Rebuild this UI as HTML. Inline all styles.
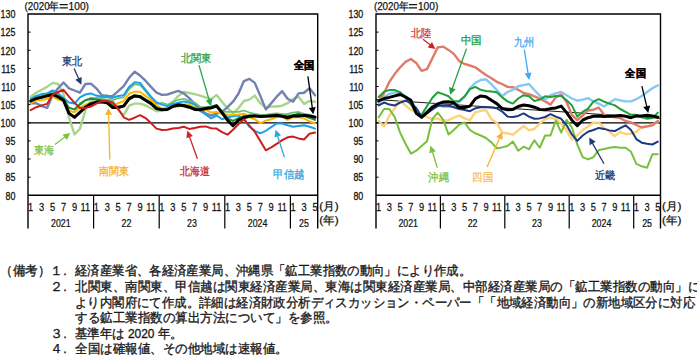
<!DOCTYPE html>
<html><head><meta charset="utf-8"><style>
html,body{margin:0;padding:0;background:#fff;width:697px;height:356px;overflow:hidden}
svg{display:block}
text{font-family:"Liberation Sans",sans-serif}
.ax{font-size:11.7px;fill:#111;stroke:#111;stroke-width:0.3px}
.mx{font-size:11.6px;fill:#111;stroke:#111;stroke-width:0.25px}
.yx{font-size:11.2px;fill:#111;stroke:#111;stroke-width:0.25px}
.hd{font-size:11.7px;fill:#111;stroke:#111;stroke-width:0.25px}
.hd2{font-size:10.8px;fill:#111;stroke:#111;stroke-width:0.25px}
.jl{font-size:11.2px;fill:#111;stroke:#111;stroke-width:0.25px}
.lb{font-size:10.5px;stroke-width:0.3px}
.bd{font-weight:bold}
.nt{font-size:12.5px;fill:#1a1a1a;stroke:#1a1a1a;stroke-width:0.35px}
</style></head><body>
<svg width="697" height="356" viewBox="0 0 697 356">
<text transform="translate(15.4,199.5) scale(0.76,1)" text-anchor="end" class="ax">80</text>
<line x1="28.0" y1="177.2" x2="30.6" y2="177.2" stroke="#000" stroke-width="1"/>
<text transform="translate(15.4,181.4) scale(0.76,1)" text-anchor="end" class="ax">85</text>
<line x1="28.0" y1="159.0" x2="30.6" y2="159.0" stroke="#000" stroke-width="1"/>
<text transform="translate(15.4,163.2) scale(0.76,1)" text-anchor="end" class="ax">90</text>
<line x1="28.0" y1="140.9" x2="30.6" y2="140.9" stroke="#000" stroke-width="1"/>
<text transform="translate(15.4,145.1) scale(0.76,1)" text-anchor="end" class="ax">95</text>
<line x1="28.0" y1="122.8" x2="30.6" y2="122.8" stroke="#000" stroke-width="1"/>
<text transform="translate(15.4,127.0) scale(0.76,1)" text-anchor="end" class="ax">100</text>
<line x1="28.0" y1="104.6" x2="30.6" y2="104.6" stroke="#000" stroke-width="1"/>
<text transform="translate(15.4,108.8) scale(0.76,1)" text-anchor="end" class="ax">105</text>
<line x1="28.0" y1="86.5" x2="30.6" y2="86.5" stroke="#000" stroke-width="1"/>
<text transform="translate(15.4,90.7) scale(0.76,1)" text-anchor="end" class="ax">110</text>
<line x1="28.0" y1="68.4" x2="30.6" y2="68.4" stroke="#000" stroke-width="1"/>
<text transform="translate(15.4,72.6) scale(0.76,1)" text-anchor="end" class="ax">115</text>
<line x1="28.0" y1="50.3" x2="30.6" y2="50.3" stroke="#000" stroke-width="1"/>
<text transform="translate(15.4,54.5) scale(0.76,1)" text-anchor="end" class="ax">120</text>
<line x1="28.0" y1="32.1" x2="30.6" y2="32.1" stroke="#000" stroke-width="1"/>
<text transform="translate(15.4,36.3) scale(0.76,1)" text-anchor="end" class="ax">125</text>
<text transform="translate(15.4,18.2) scale(0.76,1)" text-anchor="end" class="ax">130</text>
<line x1="28.0" y1="122.8" x2="317.7" y2="122.8" stroke="#000" stroke-width="1.2"/>
<path d="M28.0,228.5 V14.0 H317.7 V228.5" fill="none" stroke="#000" stroke-width="1.4"/>
<line x1="28.0" y1="195.3" x2="317.7" y2="195.3" stroke="#000" stroke-width="1.4"/>
<line x1="93.6" y1="195.3" x2="93.6" y2="228.5" stroke="#000" stroke-width="1.2"/>
<line x1="159.2" y1="195.3" x2="159.2" y2="228.5" stroke="#000" stroke-width="1.2"/>
<line x1="224.8" y1="195.3" x2="224.8" y2="228.5" stroke="#000" stroke-width="1.2"/>
<line x1="290.4" y1="195.3" x2="290.4" y2="228.5" stroke="#000" stroke-width="1.2"/>
<text transform="translate(30.7,211) scale(0.8,1)" text-anchor="middle" class="mx">1</text>
<text transform="translate(41.7,211) scale(0.8,1)" text-anchor="middle" class="mx">3</text>
<text transform="translate(52.6,211) scale(0.8,1)" text-anchor="middle" class="mx">5</text>
<text transform="translate(63.5,211) scale(0.8,1)" text-anchor="middle" class="mx">7</text>
<text transform="translate(74.5,211) scale(0.8,1)" text-anchor="middle" class="mx">9</text>
<text transform="translate(85.4,211) scale(0.8,1)" text-anchor="middle" class="mx">11</text>
<text transform="translate(96.3,211) scale(0.8,1)" text-anchor="middle" class="mx">1</text>
<text transform="translate(107.3,211) scale(0.8,1)" text-anchor="middle" class="mx">3</text>
<text transform="translate(118.2,211) scale(0.8,1)" text-anchor="middle" class="mx">5</text>
<text transform="translate(129.1,211) scale(0.8,1)" text-anchor="middle" class="mx">7</text>
<text transform="translate(140.1,211) scale(0.8,1)" text-anchor="middle" class="mx">9</text>
<text transform="translate(151.0,211) scale(0.8,1)" text-anchor="middle" class="mx">11</text>
<text transform="translate(161.9,211) scale(0.8,1)" text-anchor="middle" class="mx">1</text>
<text transform="translate(172.8,211) scale(0.8,1)" text-anchor="middle" class="mx">3</text>
<text transform="translate(183.8,211) scale(0.8,1)" text-anchor="middle" class="mx">5</text>
<text transform="translate(194.7,211) scale(0.8,1)" text-anchor="middle" class="mx">7</text>
<text transform="translate(205.6,211) scale(0.8,1)" text-anchor="middle" class="mx">9</text>
<text transform="translate(216.6,211) scale(0.8,1)" text-anchor="middle" class="mx">11</text>
<text transform="translate(227.5,211) scale(0.8,1)" text-anchor="middle" class="mx">1</text>
<text transform="translate(238.4,211) scale(0.8,1)" text-anchor="middle" class="mx">3</text>
<text transform="translate(249.4,211) scale(0.8,1)" text-anchor="middle" class="mx">5</text>
<text transform="translate(260.3,211) scale(0.8,1)" text-anchor="middle" class="mx">7</text>
<text transform="translate(271.2,211) scale(0.8,1)" text-anchor="middle" class="mx">9</text>
<text transform="translate(282.2,211) scale(0.8,1)" text-anchor="middle" class="mx">11</text>
<text transform="translate(293.1,211) scale(0.8,1)" text-anchor="middle" class="mx">1</text>
<text transform="translate(304.0,211) scale(0.8,1)" text-anchor="middle" class="mx">3</text>
<text transform="translate(315.0,211) scale(0.8,1)" text-anchor="middle" class="mx">5</text>
<text transform="translate(60.8,227.2) scale(0.79,1)" text-anchor="middle" class="yx">2021</text>
<text transform="translate(126.4,227.2) scale(0.79,1)" text-anchor="middle" class="yx">22</text>
<text transform="translate(192.0,227.2) scale(0.79,1)" text-anchor="middle" class="yx">23</text>
<text transform="translate(257.6,227.2) scale(0.79,1)" text-anchor="middle" class="yx">2024</text>
<text transform="translate(304.0,227.2) scale(0.79,1)" text-anchor="middle" class="yx">25</text>
<text x="319.3" y="209.6" class="jl" textLength="19.4" lengthAdjust="spacingAndGlyphs">(月)</text>
<text x="319.3" y="224.2" class="jl" textLength="19.4" lengthAdjust="spacingAndGlyphs">(年)</text>
<text transform="translate(363.3,199.5) scale(0.76,1)" text-anchor="end" class="ax">80</text>
<line x1="376.0" y1="177.2" x2="378.6" y2="177.2" stroke="#000" stroke-width="1"/>
<text transform="translate(363.3,181.4) scale(0.76,1)" text-anchor="end" class="ax">85</text>
<line x1="376.0" y1="159.0" x2="378.6" y2="159.0" stroke="#000" stroke-width="1"/>
<text transform="translate(363.3,163.2) scale(0.76,1)" text-anchor="end" class="ax">90</text>
<line x1="376.0" y1="140.9" x2="378.6" y2="140.9" stroke="#000" stroke-width="1"/>
<text transform="translate(363.3,145.1) scale(0.76,1)" text-anchor="end" class="ax">95</text>
<line x1="376.0" y1="122.8" x2="378.6" y2="122.8" stroke="#000" stroke-width="1"/>
<text transform="translate(363.3,127.0) scale(0.76,1)" text-anchor="end" class="ax">100</text>
<line x1="376.0" y1="104.6" x2="378.6" y2="104.6" stroke="#000" stroke-width="1"/>
<text transform="translate(363.3,108.8) scale(0.76,1)" text-anchor="end" class="ax">105</text>
<line x1="376.0" y1="86.5" x2="378.6" y2="86.5" stroke="#000" stroke-width="1"/>
<text transform="translate(363.3,90.7) scale(0.76,1)" text-anchor="end" class="ax">110</text>
<line x1="376.0" y1="68.4" x2="378.6" y2="68.4" stroke="#000" stroke-width="1"/>
<text transform="translate(363.3,72.6) scale(0.76,1)" text-anchor="end" class="ax">115</text>
<line x1="376.0" y1="50.3" x2="378.6" y2="50.3" stroke="#000" stroke-width="1"/>
<text transform="translate(363.3,54.5) scale(0.76,1)" text-anchor="end" class="ax">120</text>
<line x1="376.0" y1="32.1" x2="378.6" y2="32.1" stroke="#000" stroke-width="1"/>
<text transform="translate(363.3,36.3) scale(0.76,1)" text-anchor="end" class="ax">125</text>
<text transform="translate(363.3,18.2) scale(0.76,1)" text-anchor="end" class="ax">130</text>
<line x1="376.0" y1="122.8" x2="660.5" y2="122.8" stroke="#000" stroke-width="1.2"/>
<path d="M376.0,228.5 V14.0 H660.5 V228.5" fill="none" stroke="#000" stroke-width="1.4"/>
<line x1="376.0" y1="195.3" x2="660.5" y2="195.3" stroke="#000" stroke-width="1.4"/>
<line x1="440.4" y1="195.3" x2="440.4" y2="228.5" stroke="#000" stroke-width="1.2"/>
<line x1="504.8" y1="195.3" x2="504.8" y2="228.5" stroke="#000" stroke-width="1.2"/>
<line x1="569.2" y1="195.3" x2="569.2" y2="228.5" stroke="#000" stroke-width="1.2"/>
<line x1="633.7" y1="195.3" x2="633.7" y2="228.5" stroke="#000" stroke-width="1.2"/>
<text transform="translate(378.7,211) scale(0.8,1)" text-anchor="middle" class="mx">1</text>
<text transform="translate(389.4,211) scale(0.8,1)" text-anchor="middle" class="mx">3</text>
<text transform="translate(400.2,211) scale(0.8,1)" text-anchor="middle" class="mx">5</text>
<text transform="translate(410.9,211) scale(0.8,1)" text-anchor="middle" class="mx">7</text>
<text transform="translate(421.6,211) scale(0.8,1)" text-anchor="middle" class="mx">9</text>
<text transform="translate(432.4,211) scale(0.8,1)" text-anchor="middle" class="mx">11</text>
<text transform="translate(443.1,211) scale(0.8,1)" text-anchor="middle" class="mx">1</text>
<text transform="translate(453.8,211) scale(0.8,1)" text-anchor="middle" class="mx">3</text>
<text transform="translate(464.6,211) scale(0.8,1)" text-anchor="middle" class="mx">5</text>
<text transform="translate(475.3,211) scale(0.8,1)" text-anchor="middle" class="mx">7</text>
<text transform="translate(486.0,211) scale(0.8,1)" text-anchor="middle" class="mx">9</text>
<text transform="translate(496.8,211) scale(0.8,1)" text-anchor="middle" class="mx">11</text>
<text transform="translate(507.5,211) scale(0.8,1)" text-anchor="middle" class="mx">1</text>
<text transform="translate(518.2,211) scale(0.8,1)" text-anchor="middle" class="mx">3</text>
<text transform="translate(529.0,211) scale(0.8,1)" text-anchor="middle" class="mx">5</text>
<text transform="translate(539.7,211) scale(0.8,1)" text-anchor="middle" class="mx">7</text>
<text transform="translate(550.5,211) scale(0.8,1)" text-anchor="middle" class="mx">9</text>
<text transform="translate(561.2,211) scale(0.8,1)" text-anchor="middle" class="mx">11</text>
<text transform="translate(571.9,211) scale(0.8,1)" text-anchor="middle" class="mx">1</text>
<text transform="translate(582.7,211) scale(0.8,1)" text-anchor="middle" class="mx">3</text>
<text transform="translate(593.4,211) scale(0.8,1)" text-anchor="middle" class="mx">5</text>
<text transform="translate(604.1,211) scale(0.8,1)" text-anchor="middle" class="mx">7</text>
<text transform="translate(614.9,211) scale(0.8,1)" text-anchor="middle" class="mx">9</text>
<text transform="translate(625.6,211) scale(0.8,1)" text-anchor="middle" class="mx">11</text>
<text transform="translate(636.3,211) scale(0.8,1)" text-anchor="middle" class="mx">1</text>
<text transform="translate(647.1,211) scale(0.8,1)" text-anchor="middle" class="mx">3</text>
<text transform="translate(657.8,211) scale(0.8,1)" text-anchor="middle" class="mx">5</text>
<text transform="translate(408.2,227.2) scale(0.79,1)" text-anchor="middle" class="yx">2021</text>
<text transform="translate(472.6,227.2) scale(0.79,1)" text-anchor="middle" class="yx">22</text>
<text transform="translate(537.0,227.2) scale(0.79,1)" text-anchor="middle" class="yx">23</text>
<text transform="translate(601.5,227.2) scale(0.79,1)" text-anchor="middle" class="yx">2024</text>
<text transform="translate(647.1,227.2) scale(0.79,1)" text-anchor="middle" class="yx">25</text>
<text x="662.1" y="209.6" class="jl" textLength="19.4" lengthAdjust="spacingAndGlyphs">(月)</text>
<text x="662.1" y="224.2" class="jl" textLength="19.4" lengthAdjust="spacingAndGlyphs">(年)</text>
<text x="24.6" y="9.8" class="hd" textLength="25" lengthAdjust="spacingAndGlyphs">(2020</text><text x="49.4" y="9.8" class="hd2" textLength="9.8" lengthAdjust="spacingAndGlyphs">年</text><path d="M59.6,4.6 H67.8 M59.6,7.9 H67.8" stroke="#111" stroke-width="1.1"/><text x="68.6" y="9.8" class="hd" textLength="20.4" lengthAdjust="spacingAndGlyphs">100)</text>
<text x="373.90000000000003" y="9.8" class="hd" textLength="25" lengthAdjust="spacingAndGlyphs">(2020</text><text x="398.7" y="9.8" class="hd2" textLength="9.8" lengthAdjust="spacingAndGlyphs">年</text><path d="M408.90000000000003,4.6 H417.1 M408.90000000000003,7.9 H417.1" stroke="#111" stroke-width="1.1"/><text x="417.9" y="9.8" class="hd" textLength="20.4" lengthAdjust="spacingAndGlyphs">100)</text>
<clipPath id="cl"><rect x="28.0" y="14.0" width="289.7" height="181.29999999999998"/></clipPath>
<clipPath id="cr"><rect x="376.0" y="14.0" width="284.5" height="181.29999999999998"/></clipPath>
<g clip-path="url(#cl)">
<polyline points="30.7,96.7 36.2,92.7 41.7,89.8 47.1,86.9 52.6,82.9 58.1,84.0 63.5,94.1 69.0,117.3 74.5,134.4 79.9,128.9 85.4,110.1 90.9,100.7 96.3,98.1 101.8,97.4 107.3,95.2 112.7,101.0 118.2,110.1 123.7,115.2 129.1,105.7 134.6,103.6 140.1,103.6 145.5,105.4 151.0,108.3 156.5,111.2 161.9,110.5 167.4,106.8 172.8,102.1 178.3,95.9 183.8,92.0 189.2,93.0 194.7,94.1 200.2,95.6 205.6,97.4 211.1,99.2 216.6,94.9 222.0,101.7 227.5,108.3 233.0,113.0 238.4,108.3 243.9,101.0 249.4,99.6 254.8,95.6 260.3,103.2 265.8,107.9 271.2,106.5 276.7,106.5 282.2,105.7 287.6,103.2 293.1,98.8 298.6,96.7 304.0,103.9 309.5,101.0 315.0,101.7" fill="none" stroke="#a9d58a" stroke-width="2.4" stroke-linejoin="round" stroke-linecap="round"/>
<polyline points="30.7,103.2 36.2,103.2 41.7,106.1 47.1,107.9 52.6,95.2 58.1,88.3 63.5,82.5 69.0,88.3 74.5,90.5 79.9,92.7 85.4,84.0 90.9,83.6 96.3,88.3 101.8,95.2 107.3,96.3 112.7,95.9 118.2,91.2 123.7,86.2 129.1,77.8 134.6,71.7 140.1,75.6 145.5,80.7 151.0,86.9 156.5,92.7 161.9,94.9 167.4,94.5 172.8,92.7 178.3,90.9 183.8,93.4 189.2,98.1 194.7,103.9 200.2,108.6 205.6,113.4 211.1,115.5 216.6,113.7 222.0,111.9 227.5,107.2 233.0,101.7 238.4,93.8 243.9,81.1 249.4,78.9 254.8,82.9 260.3,95.9 265.8,109.4 271.2,103.2 276.7,96.7 282.2,91.2 287.6,98.8 293.1,101.7 298.6,93.4 304.0,92.7 309.5,88.3 315.0,95.2" fill="none" stroke="#7282b0" stroke-width="2.4" stroke-linejoin="round" stroke-linecap="round"/>
<polyline points="30.7,99.9 36.2,97.4 41.7,95.6 47.1,94.5 52.6,92.3 58.1,94.9 63.5,99.2 69.0,107.6 74.5,109.4 79.9,103.2 85.4,99.9 90.9,97.8 96.3,98.1 101.8,98.8 107.3,99.6 112.7,100.3 118.2,98.1 123.7,97.4 129.1,89.1 134.6,84.3 140.1,85.1 145.5,91.6 151.0,98.1 156.5,103.9 161.9,102.8 167.4,104.6 172.8,101.7 178.3,99.9 183.8,98.8 189.2,100.7 194.7,102.5 200.2,106.8 205.6,107.6 211.1,107.9 216.6,106.5 222.0,111.5 227.5,111.9 233.0,111.9 238.4,111.9 243.9,110.5 249.4,112.6 254.8,113.7 260.3,114.8 265.8,114.8 271.2,113.7 276.7,113.4 282.2,114.1 287.6,113.7 293.1,112.6 298.6,111.9 304.0,113.7 309.5,114.8 315.0,116.3" fill="none" stroke="#6cc070" stroke-width="1.6" stroke-linejoin="round" stroke-linecap="round"/>
<polyline points="30.7,98.8 36.2,95.9 41.7,94.1 47.1,93.4 52.6,90.5 58.1,93.4 63.5,98.1 69.0,102.5 74.5,103.6 79.9,97.4 85.4,94.5 90.9,93.4 96.3,95.6 101.8,96.7 107.3,97.0 112.7,97.8 118.2,95.9 123.7,95.2 129.1,86.9 134.6,82.2 140.1,82.9 145.5,89.8 151.0,96.7 156.5,102.5 161.9,104.6 167.4,106.1 172.8,103.9 178.3,102.8 183.8,101.4 189.2,102.5 194.7,104.6 200.2,110.8 205.6,114.4 211.1,118.4 216.6,115.5 222.0,119.2 227.5,117.3 233.0,116.3 238.4,115.5 243.9,119.2 249.4,126.8 254.8,130.8 260.3,133.3 265.8,130.8 271.2,127.1 276.7,123.5 282.2,123.5 287.6,125.3 293.1,126.8 298.6,126.0 304.0,125.3 309.5,126.8 315.0,128.6" fill="none" stroke="#1aa0e8" stroke-width="2.0" stroke-linejoin="round" stroke-linecap="round"/>
<polyline points="30.7,103.2 36.2,100.3 41.7,100.3 47.1,98.8 52.6,96.7 58.1,99.6 63.5,101.0 69.0,110.8 74.5,112.3 79.9,107.9 85.4,104.6 90.9,102.5 96.3,102.5 101.8,102.8 107.3,103.6 112.7,105.7 118.2,103.2 123.7,101.0 129.1,93.8 134.6,91.6 140.1,92.0 145.5,95.9 151.0,100.3 156.5,105.4 161.9,108.3 167.4,108.6 172.8,106.1 178.3,106.8 183.8,104.3 189.2,104.6 194.7,107.6 200.2,108.6 205.6,109.7 211.1,112.6 216.6,111.9 222.0,114.1 227.5,114.8 233.0,114.8 238.4,114.4 243.9,113.7 249.4,117.3 254.8,119.2 260.3,123.1 265.8,120.6 271.2,119.2 276.7,117.0 282.2,116.6 287.6,119.9 293.1,117.3 298.6,117.0 304.0,118.4 309.5,121.3 315.0,123.5" fill="none" stroke="#ffb400" stroke-width="2.0" stroke-linejoin="round" stroke-linecap="round"/>
<polyline points="30.7,101.0 36.2,98.1 41.7,96.7 47.1,95.2 52.6,93.8 58.1,95.9 63.5,98.8 69.0,107.9 74.5,109.4 79.9,104.6 85.4,100.3 90.9,98.8 96.3,99.6 101.8,100.3 107.3,101.0 112.7,105.4 118.2,106.5 123.7,105.4 129.1,97.8 134.6,95.2 140.1,95.9 145.5,99.6 151.0,103.2 156.5,107.6 161.9,109.4 167.4,109.0 172.8,106.1 178.3,103.9 183.8,105.0 189.2,106.5 194.7,108.3 200.2,108.6 205.6,107.6 211.1,106.8 216.6,105.0 222.0,111.2 227.5,118.4 233.0,121.0 238.4,118.1 243.9,115.9 249.4,115.5 254.8,115.5 260.3,116.3 265.8,115.9 271.2,115.2 276.7,114.4 282.2,115.9 287.6,115.5 293.1,115.2 298.6,113.7 304.0,115.9 309.5,117.7 315.0,119.9" fill="none" stroke="#1f8f3a" stroke-width="2.0" stroke-linejoin="round" stroke-linecap="round"/>
<polyline points="30.7,101.0 36.2,98.5 41.7,97.4 47.1,95.9 52.6,94.5 58.1,97.0 63.5,100.3 69.0,113.4 74.5,117.3 79.9,112.3 85.4,107.2 90.9,103.9 96.3,102.1 101.8,101.7 107.3,102.8 112.7,107.6 118.2,107.6 123.7,106.1 129.1,98.8 134.6,95.9 140.1,96.7 145.5,100.3 151.0,103.6 156.5,108.6 161.9,109.7 167.4,109.4 172.8,106.5 178.3,105.0 183.8,105.7 189.2,107.2 194.7,109.4 200.2,109.7 205.6,108.6 211.1,107.9 216.6,106.1 222.0,112.6 227.5,120.2 233.0,125.7 238.4,120.2 243.9,117.7 249.4,116.3 254.8,115.9 260.3,116.6 265.8,116.3 271.2,115.9 276.7,115.5 282.2,116.3 287.6,117.7 293.1,115.9 298.6,115.9 304.0,115.2 309.5,115.9 315.0,117.3" fill="none" stroke="#000" stroke-width="3.0" stroke-linejoin="round" stroke-linecap="round"/>
<polyline points="30.7,110.1 36.2,107.2 41.7,105.4 47.1,103.9 52.6,94.5 58.1,92.0 63.5,89.8 69.0,96.7 74.5,102.8 79.9,107.9 85.4,107.9 90.9,106.5 96.3,103.6 101.8,101.0 107.3,101.0 112.7,102.5 118.2,109.0 123.7,117.3 129.1,119.9 134.6,117.7 140.1,115.2 145.5,118.1 151.0,123.1 156.5,128.6 161.9,130.0 167.4,129.7 172.8,128.6 178.3,127.9 183.8,126.8 189.2,128.9 194.7,127.9 200.2,126.8 205.6,126.4 211.1,128.2 216.6,128.6 222.0,132.2 227.5,134.7 233.0,129.7 238.4,124.2 243.9,119.2 249.4,125.7 254.8,131.8 260.3,140.9 265.8,150.3 271.2,147.4 276.7,143.8 282.2,140.2 287.6,137.3 293.1,136.6 298.6,138.4 304.0,139.5 309.5,133.7 315.0,132.6" fill="none" stroke="#d01c1c" stroke-width="2.0" stroke-linejoin="round" stroke-linecap="round"/>
</g><g clip-path="url(#cr)">
<line x1="376.0" y1="99.5" x2="660.5" y2="118.3" stroke="#000" stroke-width="0.9"/>
<polyline points="378.7,121.0 384.1,126.4 389.4,115.5 394.8,108.3 400.2,100.7 405.5,105.4 410.9,110.1 416.3,111.5 421.6,114.8 427.0,117.0 432.4,119.2 437.7,118.4 443.1,121.0 448.5,120.2 453.8,117.7 459.2,115.5 464.6,118.4 469.9,120.2 475.3,112.3 480.7,110.8 486.0,110.1 491.4,119.2 496.8,122.8 502.1,132.6 507.5,133.3 512.9,134.7 518.2,130.4 523.6,126.0 529.0,130.4 534.4,128.9 539.7,123.5 545.1,119.2 550.5,117.7 555.8,119.2 561.2,123.5 566.6,130.4 571.9,139.5 577.3,135.5 582.7,130.0 588.0,126.4 593.4,122.8 598.8,122.4 604.1,128.2 609.5,131.8 614.9,136.2 620.2,131.8 625.6,134.0 631.0,133.7 636.3,131.8 641.7,126.8 647.1,126.4 652.4,124.6 657.8,121.7" fill="none" stroke="#ffd27a" stroke-width="2.4" stroke-linejoin="round" stroke-linecap="round"/>
<polyline points="378.7,117.3 384.1,109.0 389.4,109.0 394.8,117.3 400.2,132.9 405.5,143.8 410.9,153.6 416.3,150.7 421.6,146.0 427.0,141.3 432.4,118.8 437.7,112.6 443.1,119.5 448.5,134.4 453.8,130.0 459.2,124.6 464.6,122.4 469.9,130.0 475.3,133.3 480.7,135.5 486.0,138.0 491.4,142.4 496.8,148.2 502.1,147.4 507.5,146.0 512.9,141.6 518.2,150.7 523.6,146.7 529.0,149.2 534.4,140.2 539.7,147.8 545.1,135.5 550.5,135.5 555.8,120.6 561.2,132.6 566.6,119.9 571.9,127.5 577.3,144.5 582.7,157.2 588.0,159.4 593.4,157.2 598.8,150.0 604.1,148.9 609.5,147.8 614.9,147.1 620.2,147.8 625.6,147.8 631.0,151.8 636.3,163.8 641.7,166.3 647.1,167.7 652.4,154.3 657.8,154.3" fill="none" stroke="#78c03c" stroke-width="2.0" stroke-linejoin="round" stroke-linecap="round"/>
<polyline points="378.7,101.0 384.1,93.0 389.4,81.8 394.8,73.8 400.2,67.3 405.5,61.9 410.9,59.0 416.3,63.0 421.6,70.9 427.0,69.1 432.4,58.2 437.7,47.4 443.1,46.6 448.5,49.9 453.8,53.9 459.2,61.1 464.6,64.0 469.9,65.5 475.3,67.3 480.7,71.3 486.0,74.9 491.4,78.2 496.8,81.8 502.1,84.0 507.5,86.9 512.9,87.2 518.2,89.8 523.6,93.0 529.0,94.1 534.4,96.3 539.7,98.5 545.1,101.4 550.5,104.6 555.8,97.4 561.2,94.5 566.6,102.1 571.9,114.8 577.3,120.2 582.7,115.5 588.0,110.5 593.4,109.7 598.8,107.6 604.1,114.8 609.5,116.3 614.9,117.3 620.2,118.1 625.6,121.0 631.0,122.4 636.3,125.0 641.7,127.5 647.1,126.4 652.4,125.3 657.8,121.0" fill="none" stroke="#e07a6a" stroke-width="2.4" stroke-linejoin="round" stroke-linecap="round"/>
<polyline points="378.7,102.8 384.1,97.0 389.4,93.8 394.8,92.3 400.2,93.0 405.5,96.3 410.9,101.7 416.3,110.1 421.6,116.3 427.0,111.9 432.4,106.1 437.7,103.9 443.1,106.8 448.5,106.8 453.8,105.4 459.2,102.1 464.6,97.0 469.9,88.3 475.3,82.9 480.7,80.0 486.0,79.3 491.4,84.3 496.8,90.1 502.1,96.3 507.5,92.0 512.9,89.8 518.2,86.2 523.6,85.1 529.0,84.0 534.4,90.1 539.7,95.6 545.1,99.6 550.5,95.2 555.8,93.4 561.2,92.0 566.6,95.2 571.9,98.5 577.3,100.7 582.7,99.6 588.0,98.1 593.4,101.4 598.8,103.6 604.1,106.5 609.5,102.8 614.9,99.2 620.2,100.3 625.6,101.4 631.0,101.4 636.3,99.2 641.7,95.9 647.1,92.0 652.4,88.3 657.8,85.4" fill="none" stroke="#85c9f2" stroke-width="2.4" stroke-linejoin="round" stroke-linecap="round"/>
<polyline points="378.7,97.0 384.1,91.6 389.4,90.1 394.8,90.1 400.2,92.3 405.5,97.8 410.9,104.6 416.3,113.4 421.6,114.8 427.0,106.1 432.4,97.8 437.7,92.3 443.1,94.1 448.5,96.3 453.8,101.4 459.2,101.0 464.6,96.3 469.9,89.1 475.3,86.9 480.7,89.8 486.0,90.9 491.4,91.6 496.8,92.3 502.1,97.4 507.5,101.4 512.9,103.6 518.2,98.5 523.6,95.2 529.0,96.3 534.4,101.0 539.7,99.6 545.1,96.3 550.5,97.0 555.8,95.9 561.2,95.9 566.6,100.3 571.9,105.4 577.3,116.6 582.7,111.9 588.0,108.6 593.4,101.7 598.8,99.2 604.1,101.7 609.5,103.6 614.9,105.4 620.2,109.0 625.6,111.9 631.0,114.8 636.3,114.8 641.7,117.3 647.1,118.8 652.4,118.1 657.8,112.6" fill="none" stroke="#1fa035" stroke-width="2.0" stroke-linejoin="round" stroke-linecap="round"/>
<polyline points="378.7,105.4 384.1,102.5 389.4,104.6 394.8,105.4 400.2,102.5 405.5,100.7 410.9,103.2 416.3,107.9 421.6,117.0 427.0,113.4 432.4,109.4 437.7,106.1 443.1,105.4 448.5,105.7 453.8,107.2 459.2,109.0 464.6,110.1 469.9,111.2 475.3,108.3 480.7,107.2 486.0,107.2 491.4,107.6 496.8,108.3 502.1,111.5 507.5,116.6 512.9,117.0 518.2,115.9 523.6,113.4 529.0,116.6 534.4,118.8 539.7,118.4 545.1,117.0 550.5,114.1 555.8,116.6 561.2,118.8 566.6,125.3 571.9,134.4 577.3,140.9 582.7,135.5 588.0,131.8 593.4,130.0 598.8,127.9 604.1,128.9 609.5,130.4 614.9,131.1 620.2,128.2 625.6,125.3 631.0,130.0 636.3,139.1 641.7,142.7 647.1,143.8 652.4,144.5 657.8,141.6" fill="none" stroke="#1c3a80" stroke-width="2.0" stroke-linejoin="round" stroke-linecap="round"/>
<polyline points="378.7,101.0 384.1,98.5 389.4,97.4 394.8,95.9 400.2,94.5 405.5,97.0 410.9,100.3 416.3,113.4 421.6,117.3 427.0,112.3 432.4,107.2 437.7,103.9 443.1,102.1 448.5,101.7 453.8,102.8 459.2,107.6 464.6,107.6 469.9,106.1 475.3,98.8 480.7,95.9 486.0,96.7 491.4,100.3 496.8,103.6 502.1,108.6 507.5,109.7 512.9,109.4 518.2,106.5 523.6,105.0 529.0,105.7 534.4,107.2 539.7,109.4 545.1,109.7 550.5,108.6 555.8,107.9 561.2,106.1 566.6,112.6 571.9,120.2 577.3,125.7 582.7,120.2 588.0,117.7 593.4,116.3 598.8,115.9 604.1,116.6 609.5,116.3 614.9,115.9 620.2,115.5 625.6,116.3 631.0,117.7 636.3,115.9 641.7,115.9 647.1,115.2 652.4,115.9 657.8,117.3" fill="none" stroke="#000" stroke-width="3.0" stroke-linejoin="round" stroke-linecap="round"/>
</g>
<text x="62.0" y="64.6" fill="#1f3b73" stroke="#1f3b73" class="lb" textLength="20.3" lengthAdjust="spacingAndGlyphs">東北</text>
<line x1="74.1" y1="68.5" x2="78.9" y2="79.3" stroke="#1f3b73" stroke-width="1.3"/><polygon points="81.4,84.8 75.3,79.8 81.7,77.0" fill="#1f3b73"/>
<text x="180.9" y="62.1" fill="#2ca84a" stroke="#2ca84a" class="lb" textLength="30.8" lengthAdjust="spacingAndGlyphs">北関東</text>
<line x1="199.0" y1="65.3" x2="209.3" y2="100.5" stroke="#2ca84a" stroke-width="1.3"/><polygon points="211.0,106.3 205.7,100.6 212.4,98.6" fill="#2ca84a"/>
<text x="293.9" y="69.4" fill="#000" stroke="#000" class="lb bd" textLength="20.6" lengthAdjust="spacingAndGlyphs">全国</text>
<line x1="307.9" y1="76.3" x2="312.4" y2="108.4" stroke="#000" stroke-width="1.3"/><polygon points="313.2,114.3 308.8,107.9 315.7,106.9" fill="#000"/>
<text x="34.1" y="154.4" fill="#7dc142" stroke="#7dc142" class="lb" textLength="20.3" lengthAdjust="spacingAndGlyphs">東海</text>
<line x1="55.0" y1="144.6" x2="65.5" y2="136.5" stroke="#7dc142" stroke-width="1.3"/><polygon points="70.3,132.9 66.9,139.9 62.6,134.4" fill="#7dc142"/>
<text x="98.7" y="174.7" fill="#f5b52a" stroke="#f5b52a" class="lb" textLength="29.8" lengthAdjust="spacingAndGlyphs">南関東</text>
<line x1="109.8" y1="159.6" x2="108.6" y2="113.9" stroke="#f5b52a" stroke-width="1.3"/><polygon points="108.4,107.9 112.1,114.8 105.1,115.0" fill="#f5b52a"/>
<text x="179.7" y="174.6" fill="#c8282a" stroke="#c8282a" class="lb" textLength="29.8" lengthAdjust="spacingAndGlyphs">北海道</text>
<line x1="197.4" y1="158.8" x2="189.3" y2="136.2" stroke="#c8282a" stroke-width="1.3"/><polygon points="187.3,130.5 192.9,135.9 186.4,138.3" fill="#c8282a"/>
<text x="273.3" y="178.3" fill="#2fa8e0" stroke="#2fa8e0" class="lb" textLength="31.1" lengthAdjust="spacingAndGlyphs">甲信越</text>
<line x1="284.4" y1="157.3" x2="277.4" y2="135.4" stroke="#2fa8e0" stroke-width="1.3"/><polygon points="275.6,129.7 281.1,135.3 274.4,137.4" fill="#2fa8e0"/>
<text x="410.9" y="37.4" fill="#d83a3a" stroke="#d83a3a" class="lb" textLength="20.3" lengthAdjust="spacingAndGlyphs">北陸</text>
<line x1="423.0" y1="39.3" x2="430.7" y2="45.3" stroke="#d02020" stroke-width="1.3"/><polygon points="435.4,49.0 427.7,47.4 432.0,41.9" fill="#d02020"/>
<text x="461.0" y="43.5" fill="#22a040" stroke="#22a040" class="lb" textLength="20.9" lengthAdjust="spacingAndGlyphs">中国</text>
<line x1="466.5" y1="48.6" x2="452.1" y2="89.0" stroke="#22a040" stroke-width="1.3"/><polygon points="450.1,94.7 449.1,86.9 455.7,89.3" fill="#22a040"/>
<text x="513.6" y="45.7" fill="#3fa9f5" stroke="#3fa9f5" class="lb" textLength="20.4" lengthAdjust="spacingAndGlyphs">九州</text>
<line x1="524.3" y1="49.7" x2="528.2" y2="74.1" stroke="#3fa9f5" stroke-width="1.3"/><polygon points="529.2,80.0 524.6,73.6 531.5,72.5" fill="#3fa9f5"/>
<text x="625.4" y="77.0" fill="#000" stroke="#000" class="lb bd" textLength="20.3" lengthAdjust="spacingAndGlyphs">全国</text>
<line x1="641.9" y1="86.1" x2="646.9" y2="107.2" stroke="#000" stroke-width="1.3"/><polygon points="648.3,113.0 643.3,107.0 650.1,105.4" fill="#000"/>
<text x="428.4" y="180.5" fill="#7cc142" stroke="#7cc142" class="lb" textLength="20.7" lengthAdjust="spacingAndGlyphs">沖縄</text>
<line x1="437.3" y1="167.8" x2="432.3" y2="151.2" stroke="#7cc142" stroke-width="1.3"/><polygon points="430.5,145.5 435.9,151.2 429.2,153.2" fill="#7cc142"/>
<text x="472.2" y="180.5" fill="#fbbf50" stroke="#fbbf50" class="lb" textLength="20.7" lengthAdjust="spacingAndGlyphs">四国</text>
<line x1="487.1" y1="167.1" x2="499.8" y2="137.4" stroke="#fbb030" stroke-width="1.3"/><polygon points="502.2,131.9 502.7,139.7 496.2,137.0" fill="#fbb030"/>
<text x="595.2" y="178.9" fill="#1f3b73" stroke="#1f3b73" class="lb" textLength="20.6" lengthAdjust="spacingAndGlyphs">近畿</text>
<line x1="604.0" y1="163.7" x2="592.1" y2="142.6" stroke="#1f3b73" stroke-width="1.3"/><polygon points="589.2,137.4 595.7,141.8 589.6,145.2" fill="#1f3b73"/>
<text x="0" y="275" class="nt" textLength="50" lengthAdjust="spacingAndGlyphs">（備考）</text>
<text x="50" y="275" class="nt">１</text>
<text x="63.2" y="275" class="nt">.</text>
<text x="75" y="275" class="nt" textLength="396" lengthAdjust="spacingAndGlyphs">経済産業省、各経済産業局、沖縄県「鉱工業指数の動向」により作成。</text>
<text x="50" y="290.6" class="nt">２</text>
<text x="63.2" y="290.6" class="nt">.</text>
<text x="75" y="290.6" class="nt" textLength="625" lengthAdjust="spacingAndGlyphs">北関東、南関東、甲信越は関東経済産業局、東海は関東経済産業局、中部経済産業局の「鉱工業指数の動向」に</text>
<text x="75" y="306.5" class="nt" textLength="620" lengthAdjust="spacingAndGlyphs">より内閣府にて作成。詳細は経済財政分析ディスカッション・ペーパー「「地域経済動向」の新地域区分に対応</text>
<text x="75" y="322" class="nt" textLength="262.5" lengthAdjust="spacingAndGlyphs">する鉱工業指数の算出方法について」を参照。</text>
<text x="50" y="338" class="nt">３</text>
<text x="63.2" y="338" class="nt">.</text>
<text x="75" y="338" class="nt" textLength="107.6" lengthAdjust="spacingAndGlyphs">基準年は 2020 年。</text>
<text x="50" y="352.6" class="nt">４</text>
<text x="63.2" y="352.6" class="nt">.</text>
<text x="75" y="352.6" class="nt" textLength="212.5" lengthAdjust="spacingAndGlyphs">全国は確報値、その他地域は速報値。</text>
</svg>
</body></html>
